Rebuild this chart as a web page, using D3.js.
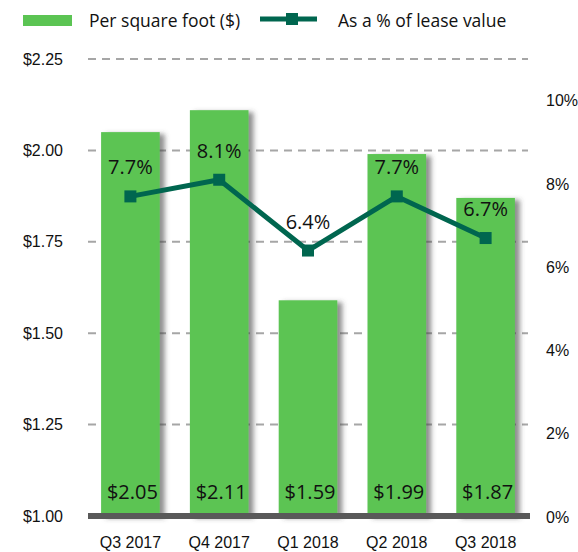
<!doctype html>
<html>
<head>
<meta charset="utf-8">
<style>
  body { margin:0; background:#fff; }
  svg { font-family:"Open Sans", sans-serif; }
  .grid line { stroke:#a6a6a6; stroke-width:2px; stroke-dasharray:8,6; }
  .axis text { font-size:16px; fill:#111; }
  .axis path, .axis line { display:none; }
  .barval { font-size:20px; fill:#111; text-anchor:middle; }
  .pctval { font-size:20px; fill:#111; text-anchor:middle; }
  .legend text { font-size:17.5px; fill:#111; }
</style>
<script src="https://d3js.org/d3.v7.min.js"></script>
</head>
<body>
<svg id="chart" width="578" height="552"></svg>
<script>
  var quarters = ["Q3 2017", "Q4 2017", "Q1 2018", "Q2 2018", "Q3 2018"]
  var perSqFt = [2.05, 2.11, 1.59, 1.99, 1.87]
  var pctLease = [7.7, 8.1, 6.4, 7.7, 6.7]
  var leftTicks = [1.00, 1.25, 1.50, 1.75, 2.00, 2.25]
  var rightTicks = [0, 2, 4, 6, 8, 10]

  var svg = d3.select("#chart")
  var green = "#5bc453", teal = "#00664f"

  var x = d3.scaleBand().domain(quarters).range([86, 530]).paddingInner(0.34).paddingOuter(0.17)
  var yL = d3.scaleLinear().domain([1.00, 2.25]).range([516, 59])
  var yR = d3.scaleLinear().domain([0, 11]).range([517, 59])

  // shadow filter
  var f = svg.append("defs").append("filter").attr("id", "shadow")
    .attr("x", "-20%").attr("y", "-20%").attr("width", "150%").attr("height", "150%")
  f.append("feDropShadow").attr("dx", 5).attr("dy", 2).attr("stdDeviation", 2.5)
    .attr("flood-color", "#444").attr("flood-opacity", 0.6)

  // gridlines
  svg.append("g").attr("class", "grid")
    .selectAll("line").data(leftTicks.slice(1)).enter()
    .append("line")
    .attr("x1", 88).attr("x2", 528)
    .attr("y1", function(d){ return yL(d) }).attr("y2", function(d){ return yL(d) })

  // bars
  svg.append("g").selectAll("rect").data(perSqFt).enter()
    .append("rect")
    .attr("x", function(d,i){ return x(quarters[i]) })
    .attr("y", function(d){ return yL(d) })
    .attr("width", x.bandwidth())
    .attr("height", function(d){ return yL(1) - yL(d) })
    .attr("fill", green)
    .attr("filter", "url(#shadow)")

  // baseline
  svg.append("line").attr("x1", 88).attr("x2", 530).attr("y1", yL(1)).attr("y2", yL(1))
    .attr("stroke", "#595959").attr("stroke-width", 6)

  // bar value labels
  svg.append("g").selectAll("text").data(perSqFt).enter()
    .append("text").attr("class", "barval")
    .attr("x", function(d,i){ return x(quarters[i]) + x.bandwidth()/2 + 2 })
    .attr("y", 499)
    .text(function(d){ return "$" + d.toFixed(2) })

  // line
  var line = d3.line()
    .x(function(d,i){ return x(quarters[i]) + x.bandwidth()/2 })
    .y(function(d){ return yR(d) })
  svg.append("path").datum(pctLease).attr("d", line)
    .attr("fill", "none").attr("stroke", teal).attr("stroke-width", 5).attr("stroke-linejoin", "round")
  svg.append("g").selectAll("rect").data(pctLease).enter()
    .append("rect")
    .attr("x", function(d,i){ return x(quarters[i]) + x.bandwidth()/2 - 6 })
    .attr("y", function(d){ return yR(d) - 6 })
    .attr("width", 12).attr("height", 12).attr("fill", teal)

  svg.append("g").selectAll("text").data(pctLease).enter()
    .append("text").attr("class", "pctval")
    .attr("x", function(d,i){ return x(quarters[i]) + x.bandwidth()/2 })
    .attr("y", function(d){ return yR(d) - 22 })
    .text(function(d){ return d.toFixed(1) + "%" })

  // axes
  svg.append("g").attr("class", "axis")
    .attr("transform", "translate(66,0)")
    .call(d3.axisLeft(yL).tickValues(leftTicks).tickSize(0).tickPadding(3).tickFormat(function(d){ return "$" + d.toFixed(2) }))
  svg.append("g").attr("class", "axis")
    .attr("transform", "translate(544,0)")
    .call(d3.axisRight(yR).tickValues(rightTicks).tickSize(0).tickPadding(2).tickFormat(function(d){ return d + "%" }))
  svg.append("g").attr("class", "axis")
    .attr("transform", "translate(0,530)")
    .call(d3.axisBottom(x).tickSize(0).tickPadding(7))

  // legend
  var lg = svg.append("g").attr("class", "legend")
  lg.append("rect").attr("x", 23).attr("y", 15).attr("width", 49).attr("height", 11).attr("fill", green)
  lg.append("text").attr("x", 89).attr("y", 27).text("Per square foot ($)")
  lg.append("line").attr("x1", 260).attr("x2", 317).attr("y1", 19).attr("y2", 19)
    .attr("stroke", teal).attr("stroke-width", 5)
  lg.append("rect").attr("x", 286).attr("y", 13).attr("width", 12).attr("height", 12).attr("fill", teal)
  lg.append("text").attr("x", 338).attr("y", 27).text("As a % of lease value")
</script>
</body>
</html>
